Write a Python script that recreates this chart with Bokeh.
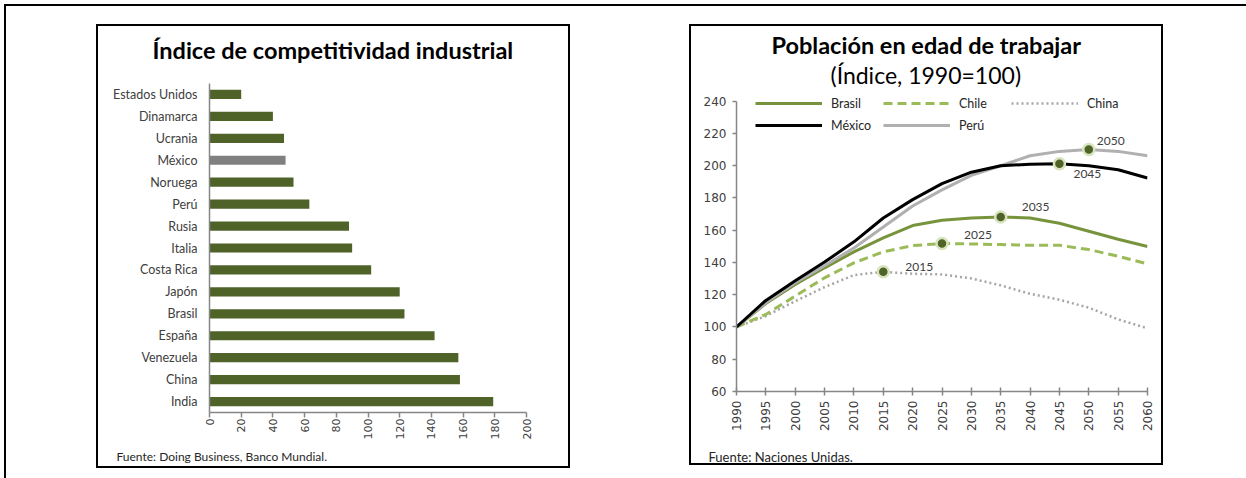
import math
from bokeh.plotting import figure
from bokeh.models import (ColumnDataSource, LabelSet, Legend, LegendItem, Title,
                          FactorRange, Range1d, FixedTicker, Spacer)
from bokeh.layouts import row, column
from bokeh.embed import file_html
from bokeh.resources import INLINE
from bokeh.core.properties import value

# ---------------- data: left chart ----------------
countries = ["Estados Unidos", "Dinamarca", "Ucrania", "México", "Noruega", "Perú",
             "Rusia", "Italia", "Costa Rica", "Japón", "Brasil", "España",
             "Venezuela", "China", "India"]
competitividad = [20, 40, 47, 48, 53, 63, 88, 90, 102, 120, 123, 142, 157, 158, 179]
highlight = "México"
x_ticks_left = [0, 20, 40, 60, 80, 100, 120, 140, 160, 180, 200]

# ---------------- data: right chart ----------------
years = [1990, 1995, 2000, 2005, 2010, 2015, 2020, 2025, 2030, 2035, 2040, 2045, 2050, 2055, 2060]
brasil = [100, 114.5, 126.4, 136.7, 146.6, 155.3, 162.9, 166.2, 167.6, 168.2, 167.6, 164.3, 159.4, 154.4, 149.9]
chile = [100, 107.8, 119.2, 130.5, 139.8, 146.6, 150.5, 151.8, 151.5, 151.1, 150.7, 150.7, 148.0, 143.9, 139.2]
china = [100, 106.8, 116.0, 124.7, 132.2, 134.2, 133.0, 132.6, 130.1, 125.8, 120.6, 116.9, 112.0, 104.7, 99.2]
mexico = [100, 116.5, 128.7, 140.3, 152.8, 167.6, 179.0, 188.9, 196.0, 200.0, 201.0, 201.2, 200.0, 197.5, 192.4]
peru = [100, 115.0, 127.4, 138.0, 149.0, 162.0, 175.0, 185.0, 194.0, 200.0, 206.2, 208.9, 210.1, 208.9, 206.2]
peak_series = ["China", "Chile", "Brasil", "México", "Perú"]
peak_years = [2015, 2025, 2035, 2045, 2050]
y_ticks_right = [60, 80, 100, 120, 140, 160, 180, 200, 220, 240]

GREEN_DARK = "#4F6228"
TXT = "#404040"
AXIS = "#868686"


def gap_title(px):
    # blank spacer title used only to push a real title away from the frame
    return Title(text=" ", text_font_size="2px", standoff=px, text_color="#FFFFFF")


# ================= LEFT FIGURE =================
p1 = figure(width=474, height=444, output_backend="svg", toolbar_location=None, title=None,
            y_range=FactorRange(*countries[::-1]), x_range=Range1d(0, 200),
            min_border_left=111, min_border_right=46, min_border_top=57, min_border_bottom=58)
p1.outline_line_color = None
p1.grid.visible = False
bar_colors = ["#808080" if c == highlight else GREEN_DARK for c in countries]
src1 = ColumnDataSource(dict(country=countries, val=competitividad, color=bar_colors))
p1.hbar(y="country", right="val", left=0, height=0.42, fill_color="color", line_color=None, source=src1)

xa = p1.xaxis[0]
xa.ticker = FixedTicker(ticks=x_ticks_left)
xa.major_label_orientation = math.pi / 2
xa.major_label_text_font = "DejaVu Sans"
xa.major_label_text_font_size = "11px"
xa.major_label_text_color = TXT
xa.axis_line_color = AXIS
xa.axis_line_width = 1.5
xa.major_tick_line_color = AXIS
xa.major_tick_line_width = 1.5
xa.major_tick_out = 5
xa.major_tick_in = 0
xa.minor_tick_line_color = None
xa.major_label_standoff = 1

ya = p1.yaxis[0]
ya.major_label_text_font = "Lato"
ya.major_label_text_font_size = "12.5px"
ya.major_label_text_color = TXT
ya.axis_line_color = AXIS
ya.axis_line_width = 1.5
ya.major_tick_line_color = None
ya.major_tick_out = 0
ya.major_tick_in = 0
ya.major_label_standoff = 12

p1.add_layout(gap_title(16), "above")
p1.add_layout(Title(text="Índice de competitividad industrial", align="left", offset=-57,
                    standoff=0, vertical_align="bottom", text_font="Lato",
                    text_font_style="bold", text_font_size="23.5px", text_color="#000000"), "above")
p1.add_layout(gap_title(2), "below")
p1.add_layout(Title(text="Fuente: Doing Business, Banco Mundial.", align="left", offset=-93,
                    standoff=0, vertical_align="top", text_font="Lato", text_font_style="normal",
                    text_font_size="12px", text_color="#262626"), "below")
p1.styles = {"border": "2px solid black"}

# ================= RIGHT FIGURE =================
p2 = figure(width=474, height=441, output_backend="svg", toolbar_location=None, title=None,
            x_range=Range1d(1990, 2060), y_range=Range1d(60, 247.9),
            min_border_left=45, min_border_right=18, min_border_top=62, min_border_bottom=72)
p2.outline_line_color = None
p2.grid.visible = False

series = {"Brasil": brasil, "Chile": chile, "China": china, "México": mexico, "Perú": peru}
styles = {
    "Brasil": dict(line_color="#77933C", line_width=3, line_dash="solid"),
    "Chile": dict(line_color="#9BBB59", line_width=3, line_dash="9 5"),
    "China": dict(line_color="#A6A6A6", line_width=2.5, line_dash="2 3"),
    "México": dict(line_color="#000000", line_width=3, line_dash="solid"),
    "Perú": dict(line_color="#B0B0B0", line_width=3, line_dash="solid"),
}
renderers = {}
for name in ["China", "Chile", "Brasil", "Perú", "México"]:
    renderers[name] = p2.line(years, series[name], **styles[name])

pk_y = [series[s][years.index(y)] for s, y in zip(peak_series, peak_years)]
dx = [22, 22, 21, 14, 8]
dy = [5, 8, 10, -10, 8]
src2 = ColumnDataSource(dict(x=peak_years, y=pk_y, lab=[str(y) for y in peak_years], dx=dx, dy=dy))
p2.scatter("x", "y", size=11, fill_color=GREEN_DARK, line_color="#D7E4BD", line_width=2.5, source=src2)
p2.add_layout(LabelSet(x="x", y="y", text="lab", x_offset="dx", y_offset="dy", source=src2,
                       text_font=value("Lato"), text_font_size=value("12px"), text_color=TXT,
                       text_align="left", text_baseline="middle"))

legend_order = ["Brasil", "México", "Chile", "Perú", "China"]
legend = Legend(items=[LegendItem(label=n, renderers=[renderers[n]]) for n in legend_order],
                nrows=2, location=(19, 256), glyph_width=67, glyph_height=16,
                label_standoff=9, label_width=50, label_height=20, spacing=2,
                padding=0, margin=0, border_line_color=None, background_fill_alpha=0,
                label_text_font="Lato", label_text_font_size="12.5px", label_text_color="#262626")
p2.add_layout(legend)

xb = p2.xaxis[0]
xb.ticker = FixedTicker(ticks=years)
xb.major_label_orientation = math.pi / 2
xb.major_label_text_font = "DejaVu Sans"
xb.major_label_text_font_size = "12px"
xb.major_label_text_color = TXT
xb.axis_line_color = AXIS
xb.axis_line_width = 1.5
xb.major_tick_line_color = AXIS
xb.major_tick_line_width = 1.5
xb.major_tick_out = 4
xb.major_tick_in = 4
xb.minor_tick_line_color = None
xb.major_label_standoff = 5

yb = p2.yaxis[0]
yb.ticker = FixedTicker(ticks=y_ticks_right)
yb.bounds = (60, 240)
yb.major_label_text_font = "DejaVu Sans"
yb.major_label_text_font_size = "12px"
yb.major_label_text_color = TXT
yb.axis_line_color = AXIS
yb.axis_line_width = 1.5
yb.major_tick_line_color = AXIS
yb.major_tick_line_width = 1.5
yb.major_tick_out = 4
yb.major_tick_in = 0
yb.minor_tick_line_color = None
yb.major_label_standoff = 6

# subtitle first (closest to the frame), then title
p2.add_layout(Title(text="(Índice, 1990=100)", align="left", offset=94, standoff=0,
                    vertical_align="bottom", text_font="Lato", text_font_style="normal",
                    text_font_size="23px", text_color="#000000"), "above")
p2.add_layout(Title(text="Población en edad de trabajar", align="left", offset=35, standoff=0,
                    vertical_align="bottom", text_font="Lato", text_font_style="bold",
                    text_font_size="23.5px", text_color="#000000"), "above")
p2.add_layout(gap_title(4.9), "below")
p2.add_layout(Title(text="Fuente: Naciones Unidas.", align="left", offset=-28,
                    standoff=6, vertical_align="bottom", text_font="Lato", text_font_style="normal",
                    text_font_size="13px", text_color="#262626"), "below")
p2.styles = {"border": "2px solid black", "position": "absolute",
             "left": "689px", "top": "24px"}

layout = column(
    Spacer(height=18),
    row(Spacer(width=90), p1, Spacer(width=676)),
    Spacer(height=10),
    styles={"border-top": "2px solid black", "border-left": "2px solid black",
            "margin-left": "4px", "margin-top": "4px"},
)

open("out.html", "w").write(file_html([layout, p2], INLINE))
